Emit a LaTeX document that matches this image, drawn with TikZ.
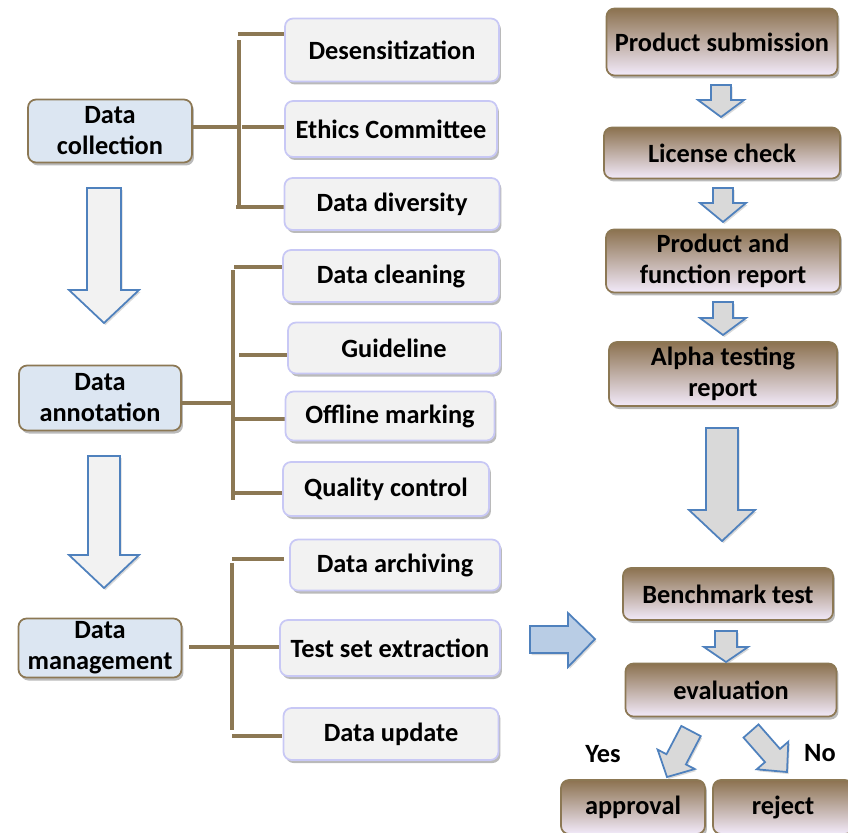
\documentclass[tikz,border=0pt]{standalone}
\usepackage{fontspec}
\setmainfont{Carlito}
\usetikzlibrary{shadows,calc}

\definecolor{linebrown}{RGB}{140,120,84}
\definecolor{leftblue}{RGB}{220,230,242}
\definecolor{midgray}{RGB}{242,242,242}
\definecolor{lavline}{RGB}{200,200,245}
\definecolor{topbrown}{RGB}{140,114,80}
\definecolor{botlav}{RGB}{242,234,250}
\definecolor{arrowblue}{RGB}{79,129,189}
\definecolor{arrowgray}{RGB}{217,217,217}
\definecolor{arrowlight}{RGB}{242,242,242}
\definecolor{arrowsky}{RGB}{185,205,229}

% block arrow pointing down: style, centre x, top, head start, head half-width, shaft half-width, tip
\newcommand\downblock[7]{%
  \draw[#1] (#2-#6,#3) -- (#2+#6,#3) -- (#2+#6,#4) -- (#2+#5,#4)
    -- (#2,#7) -- (#2-#5,#4) -- (#2-#6,#4) -- cycle;}

\begin{document}
\begin{tikzpicture}[x=0.02cm,y=-0.02cm,
  font=\fontsize{15}{17.6}\selectfont\bfseries,
  every node/.style={align=center,inner sep=0pt},
  conn/.style={draw=linebrown,line width=2.2pt},
  shade/.style={drop shadow={shadow xshift=0.04cm,shadow yshift=-0.06cm,opacity=0.45,fill=black!60}},
  leftbox/.style={draw=linebrown,line width=1pt,fill=leftblue,rounded corners=0.16cm,shade},
  midbox/.style={draw=lavline,line width=1pt,fill=midgray,rounded corners=0.16cm,shade},
  rightbox/.style={draw=linebrown,line width=1pt,top color=topbrown,bottom color=botlav,rounded corners=0.16cm,shade},
  blockarrow/.style={draw=arrowblue,line width=1pt,line join=miter,
    drop shadow={shadow xshift=0.03cm,shadow yshift=-0.04cm,opacity=0.3,fill=black!50}},
]
\useasboundingbox (0,0) rectangle (848,832);

% ---- left column: stages ----
\node[leftbox,minimum width=3.28cm,minimum height=1.26cm] (dc) at (110,131) {Data\\collection};
\node[leftbox,minimum width=3.24cm,minimum height=1.30cm] (da) at (100,398) {Data\\annotation};
\node[leftbox,minimum width=3.26cm,minimum height=1.18cm] (dm) at (100,648) {Data\\management};

% ---- brackets joining stages to their tasks ----
\draw[conn] ($(dc.east)+(0,-4)$) -- ++(47,0);
\draw[conn] (239,40) -- (239,207);
\draw[conn] (238,34) -- (291,34);
\draw[conn] (242,127) -- (285,127);
\draw[conn] (236,207) -- (290,207);

\draw[conn] ($(da.east)+(0,5)$) -- ++(52,0);
\draw[conn] (233,270) -- (233,500);
\draw[conn] (234,267) -- (287,267);
\draw[conn] (239,355) -- (292,355);
\draw[conn] (233,419) -- (288,419);
\draw[conn] (235,493) -- (290,493);

\draw[conn] ($(dm.east)+(7,-1)$) -- (282,647);
\draw[conn] (232,563) -- (232,730);
\draw[conn] (232,559) -- (284,559);
\draw[conn] (232,736) -- (282,736);

% ---- task boxes ----
\node[midbox,minimum width=4.28cm,minimum height=1.26cm] (desens) at (392,50) {Desensitization};
\node[midbox,minimum width=4.24cm,minimum height=1.12cm] (ethics) at (391,129) {Ethics Committee};
\node[midbox,minimum width=4.30cm,minimum height=1.04cm] (divers) at (392,204) {Data diversity};
\node[midbox,minimum width=4.32cm,minimum height=1.04cm] (clean) at (391,276) {Data cleaning};
\node[midbox,minimum width=4.24cm,minimum height=1.02cm] (guide) at (394,348) {Guideline};
\node[midbox,minimum width=4.18cm,minimum height=0.98cm] (offline) at (390,416) {Offline marking};
\node[midbox,minimum width=4.12cm,minimum height=1.08cm] (quality) at (386,489) {Quality control};
\node[midbox,minimum width=4.20cm,minimum height=1.02cm] (archiv) at (395,565) {Data archiving};
\node[midbox,minimum width=4.40cm,minimum height=1.12cm] (testset) at (390,648) {Test set extraction};
\node[midbox,minimum width=4.30cm,minimum height=1.04cm] (update) at (391,734) {Data update};

% ---- left flow arrows ----
\downblock{blockarrow,fill=arrowlight}{104}{188}{290}{35}{17}{323}
\downblock{blockarrow,fill=arrowlight}{104}{456}{555}{35}{16}{588}

% ---- hand-over arrow ----
\draw[blockarrow,fill=arrowsky] (530,626) -- (568,626) -- (568,613) -- (595,639)
  -- (568,667) -- (568,653) -- (530,653) -- cycle;

% ---- right column: product review ----
\node[rightbox,minimum width=4.62cm,minimum height=1.34cm] (psub) at (722,42) {Product submission};
\node[rightbox,minimum width=4.72cm,minimum height=1.02cm] (lic) at (722,153) {License check};
\node[rightbox,minimum width=4.68cm,minimum height=1.26cm] (pfr) at (723,261) {Product and\\function report};
\node[rightbox,minimum width=4.56cm,minimum height=1.28cm] (alpha) at (723,374) {Alpha testing\\report};
\node[rightbox,minimum width=4.20cm,minimum height=1.04cm] (bench) at (728,594) {Benchmark test};
\node[rightbox,minimum width=4.22cm,minimum height=1.06cm] (eval) at (731,690) {evaluation};
\node[rightbox,minimum width=2.88cm,minimum height=1.08cm] (approval) at (633,807) {approval};
\node[rightbox,minimum width=2.80cm,minimum height=1.08cm] (reject) at (783,807) {reject};

\downblock{blockarrow,fill=arrowgray}{721}{85}{100}{23}{10}{117}
\downblock{blockarrow,fill=arrowgray}{723}{188}{203}{23}{10}{222}
\downblock{blockarrow,fill=arrowgray}{723}{302}{318}{23}{10}{335}
\downblock{blockarrow,fill=arrowgray}{722}{428}{510}{33}{16}{541}
\downblock{blockarrow,fill=arrowgray}{726}{631}{647}{22}{11}{662}

% ---- decision arrows ----
\draw[blockarrow,fill=arrowgray] (681.3,725.9) -- (700.7,736.1) -- (685.9,764.4)
  -- (694.8,769.0) -- (667,777) -- (657.6,749.6) -- (666.5,754.2) -- cycle;
\draw[blockarrow,fill=arrowgray] (743.5,737.6) -- (758.5,724.4) -- (780.0,748.9)
  -- (788.3,741.7) -- (787,772) -- (756.7,769.3) -- (765.0,762.1) -- cycle;
\node (yes) at (603,754) {Yes};
\node (no) at (820,753) {No};
\end{tikzpicture}
\end{document}
